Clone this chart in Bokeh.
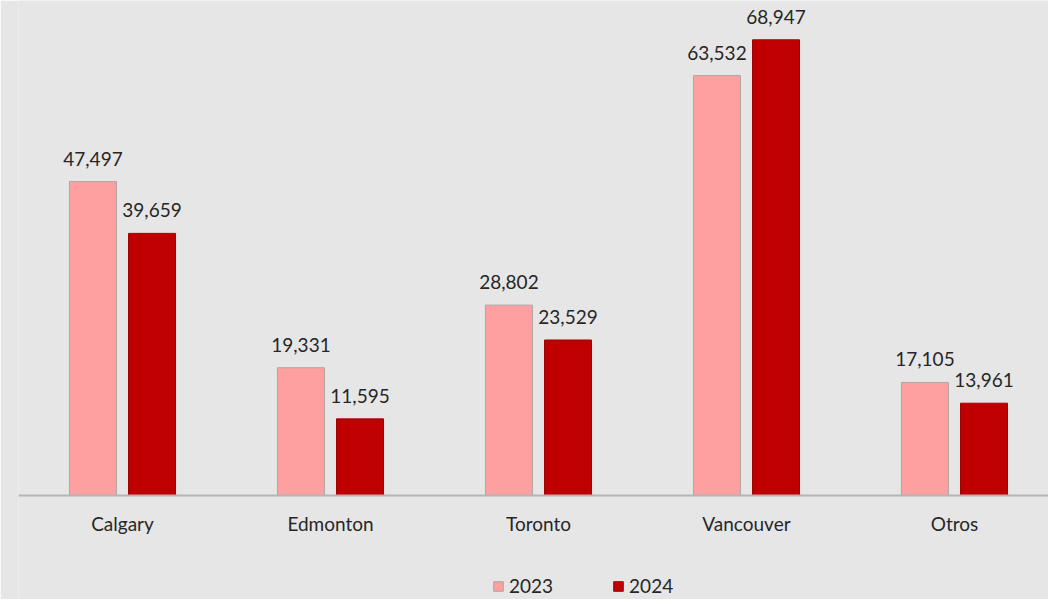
from bokeh.plotting import figure
from bokeh.models import ColumnDataSource, Range1d, Legend, LegendItem, FixedTicker
from bokeh.core.properties import value
from bokeh.embed import file_html
from bokeh.resources import INLINE

categories = ["Calgary", "Edmonton", "Toronto", "Vancouver", "Otros"]
values_2023 = [47497, 19331, 28802, 63532, 17105]
values_2024 = [39659, 11595, 23529, 68947, 13961]
series_names = ["2023", "2024"]

BG = "#e6e6e6"
FONT = "Lato"
TXT = "#262626"

off = 0.142
bw = 0.226
centers = [i + 0.5 for i in range(len(categories))]

src = ColumnDataSource(dict(
    x23=[c - off for c in centers],
    x24=[c + off for c in centers],
    v23=values_2023,
    v24=values_2024,
    l23=[f"{v:,}" for v in values_2023],
    l24=[f"{v:,}" for v in values_2024],
))

p = figure(
    x_range=Range1d(0, 4.952),
    y_range=Range1d(-15735, 74894),
    width=1048, height=599,
    output_backend="svg", toolbar_location=None,
    min_border_left=18, min_border_right=0, min_border_top=0, min_border_bottom=0,
    background_fill_color=BG, border_fill_color=BG, outline_line_color=None,
)
p.grid.visible = False
p.yaxis.visible = False

r23 = p.vbar(x="x23", top="v23", width=bw, bottom=0,
             source=src, fill_color="#ffa0a0", line_color="#b0a4a4", line_width=1)
r24 = p.vbar(x="x24", top="v24", width=bw, bottom=0,
             source=src, fill_color="#c00000", line_color="#a00000", line_width=1)

for xc, col, lab in (("x23", "v23", "l23"), ("x24", "v24", "l24")):
    p.text(x=xc, y=col, text=lab, source=src,
           text_align="center", text_baseline="alphabetic", y_offset=-23,
           text_font=value(FONT), text_font_size="19px", text_color=TXT)

ax = p.xaxis[0]
ax.fixed_location = 0
ax.ticker = FixedTicker(ticks=centers)
ax.major_label_overrides = {c: name for c, name in zip(centers, categories)}
ax.axis_line_color = "#b4b4b4"
ax.axis_line_width = 2
ax.major_tick_line_color = None
ax.minor_tick_line_color = None
ax.major_tick_in = 0
ax.major_tick_out = 0
ax.major_label_standoff = 16
ax.major_label_text_font = FONT
ax.major_label_text_font_size = "19px"
ax.major_label_text_color = TXT

legend = Legend(
    items=[LegendItem(label=series_names[0], renderers=[r23]),
           LegendItem(label=series_names[1], renderers=[r24])],
    orientation="horizontal", location=(474, 2),
    glyph_width=12, glyph_height=12, label_standoff=5, spacing=59,
    padding=0, margin=0,
    background_fill_alpha=0, border_line_color=None,
    label_text_font=FONT, label_text_font_size="19px", label_text_color=TXT,
)
p.add_layout(legend, "center")

open("out.html", "w").write(file_html(p, INLINE))
